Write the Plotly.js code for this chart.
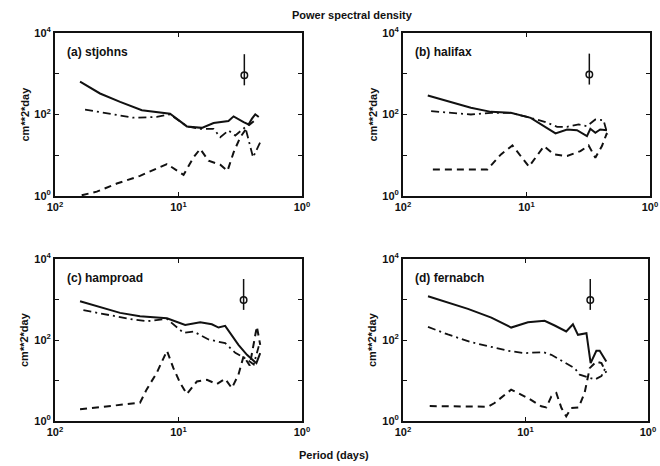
<!DOCTYPE html>
<html>
<head>
<meta charset="utf-8">
<script src="https://cdn.plot.ly/plotly-3.0.1.min.js"></script>
<style>html,body{margin:0;padding:0;background:#fff;}#chart{width:660px;height:466px;}</style>
</head>
<body>
<div id="chart"></div>
<script>
// ---- data (period in days, PSD in cm**2*day) ----
const panelNames = ["(a) stjohns", "(b) halifax", "(c) hamproad", "(d) fernabch"];

const periodA_solid = [62.7, 43.2, 29.7, 19.8, 11.7, 8.55, 6.47, 5.2, 3.94, 3.58, 2.97, 2.71, 2.54, 2.39, 2.24];
const psdA_solid    = [637, 328, 204, 127, 105, 51, 47, 62, 69, 90, 65, 57, 79, 101, 87];
const periodA_dashdot = [57.1, 35.8, 23.2, 15.0, 11.7, 8.55, 6.67, 5.2, 4.59, 3.94, 3.47, 2.88, 2.49, 2.18];
const psdA_dashdot    = [132, 105, 83.5, 87, 101, 51, 44.6, 44.6, 27.7, 40.6, 30.5, 49, 8.9, 20.9];
const periodA_dash = [60.8, 45.9, 31.6, 20.5, 12.4, 10.3, 9.1, 7.55, 6.67, 5.71, 4.59, 4.01, 3.58, 3.16, 2.71, 2.32];
const psdA_dash    = [1.04, 1.28, 2.02, 3.12, 6.08, 4.15, 3.31, 8.88, 14.3, 7.34, 5.85, 4.15, 11.8, 27.7, 54, 79];

const periodB_solid = [63, 43.5, 28.2, 19.4, 13.4, 9.25, 7.22, 5.82, 4.69, 3.9, 3.24, 3.04, 2.77, 2.53, 2.23];
const psdB_solid    = [292, 212, 146, 116, 110, 82.9, 51.8, 34.3, 42.9, 41.3, 29.5, 44.6, 35.6, 42.9, 41.3];
const periodB_dashdot = [59.2, 40.8, 28.2, 19.4, 13.4, 9.25, 7.01, 5.65, 4.69, 3.78, 3.24, 2.77, 2.38, 2.21];
const psdB_dashdot    = [121, 110, 100, 110, 110, 82.9, 64.9, 49.9, 49.9, 56.9, 51.8, 75.5, 72.6, 32.4];
const periodB_dash = [57.3, 20.7, 16.1, 13.0, 9.55, 7.22, 6.01, 4.69, 3.66, 3.14, 2.77, 2.45, 2.23];
const psdB_dash    = [4.5, 4.5, 10.5, 17.4, 5.23, 16.8, 10.5, 9.55, 12.6, 17.4, 8.69, 16.8, 35.6];

const periodC_solid = [62.7, 43.2, 29.7, 20.5, 12.4, 8.83, 6.67, 5.37, 4.74, 4.19, 3.70, 3.27, 2.79, 2.34, 2.18];
const psdC_solid    = [906, 657, 467, 387, 345, 236, 275, 245, 203, 223, 134, 76, 43.1, 26.8, 47.4];
const periodC_dashdot = [58.9, 38.1, 23.2, 18.1, 12.4, 9.1, 7.55, 5.71, 4.19, 3.47, 2.79, 2.46, 2.24];
const psdC_dashdot    = [543, 425, 320, 291, 332, 150, 162, 103, 83.6, 48.3, 33.1, 24.9, 70.5];
const periodC_dash = [62.7, 35.8, 20.5, 18.1, 15.0, 12.4, 11.0, 9.68, 8.55, 7.1, 5.89, 4.89, 4.19, 3.70, 3.27, 2.97, 2.65, 2.32, 2.18];
const psdC_dash    = [1.94, 2.34, 2.83, 6.03, 15.5, 54.1, 20.2, 8.64, 4.63, 9.49, 10.4, 8.16, 11.0, 6.5, 13.9, 40, 23.5, 215, 76];

const periodD_solid = [62.5, 43, 29.5, 19.0, 13.1, 9.55, 6.98, 5.78, 4.65, 4.1, 3.73, 3.18, 2.94, 2.64, 2.48, 2.19];
const psdD_solid    = [1202, 824, 586, 358, 203, 275, 297, 228, 162, 245, 134, 147, 26.8, 54.1, 54.1, 29.5];
const periodD_dashdot = [62.5, 43, 27.7, 19.0, 13.9, 10.2, 7.19, 6.15, 4.94, 3.97, 3.61, 3.09, 2.72, 2.40, 2.19];
const psdD_dashdot    = [211, 137, 88.4, 69.2, 54.1, 47.4, 50.2, 43.1, 29.5, 20.2, 13.9, 11.7, 10.6, 12.8, 22.7];
const periodD_dash = [60.5, 20.2, 17.9, 13.1, 9.55, 7.43, 6.76, 6.15, 5.6, 5.09, 4.65, 4.23, 3.68, 3.29, 2.99, 2.64, 2.40, 2.19];
const psdD_dash    = [2.34, 2.25, 2.78, 5.92, 3.69, 2.3, 2.17, 4.05, 4.9, 2.09, 1.30, 2.09, 2.17, 4.99, 20.2, 29.5, 26.8, 15.5];

// confidence interval marker per panel
const errPeriod = [2.93, 3.1, 2.97, 2.96];
const errMid    = [918, 955, 977, 977];
const errLow    = [520, 543, 554, 554];
const errHigh   = [3020, 3119, 3213, 3213];

const xTickVals = [1, 10, 100];
const xTickText = ["10<sup>0</sup>", "10<sup>1</sup>", "10<sup>2</sup>"];
const yTickVals = [1, 100, 10000];
const yTickText = ["10<sup>0</sup>", "10<sup>2</sup>", "10<sup>4</sup>"];
const yMinorVals = [10, 1000];

// ---- build ----
const series = [
  [[periodA_solid, psdA_solid], [periodA_dashdot, psdA_dashdot], [periodA_dash, psdA_dash]],
  [[periodB_solid, psdB_solid], [periodB_dashdot, psdB_dashdot], [periodB_dash, psdB_dash]],
  [[periodC_solid, psdC_solid], [periodC_dashdot, psdC_dashdot], [periodC_dash, psdC_dash]],
  [[periodD_solid, psdD_solid], [periodD_dashdot, psdD_dashdot], [periodD_dash, psdD_dash]]
];
const styles = [
  {dash: "solid", width: 2},
  {dash: "8px,4px,2px,4px", width: 1.8},
  {dash: "7px,5px", width: 2}
];

const W = 660, H = 466;
const boxes = [
  {l: 55, r: 302, t: 33, b: 196},
  {l: 403, r: 650, t: 33, b: 196},
  {l: 55, r: 302, t: 259, b: 421},
  {l: 403, r: 648, t: 259, b: 421}
];

const traces = [];
const layout = {
  width: W, height: H,
  margin: {l: 0, r: 0, t: 0, b: 0},
  paper_bgcolor: "#fff", plot_bgcolor: "#fff",
  showlegend: false,
  font: {family: "Liberation Sans, Arial, sans-serif", size: 11, color: "#111", weight: "bold"},
  annotations: []
};

boxes.forEach((bx, i) => {
  const n = i + 1;
  const xa = "x" + (n === 1 ? "" : n), ya = "y" + (n === 1 ? "" : n);
  series[i].forEach((s, k) => {
    traces.push({
      x: s[0], y: s[1], xaxis: xa, yaxis: ya, type: "scatter", mode: "lines",
      line: {color: "#111", width: styles[k].width, dash: styles[k].dash},
      hoverinfo: "skip"
    });
  });
  traces.push({
    x: [errPeriod[i], errPeriod[i]], y: [errLow[i], errHigh[i]], xaxis: xa, yaxis: ya,
    type: "scatter", mode: "lines", line: {color: "#111", width: 1.5}, hoverinfo: "skip"
  });
  traces.push({
    x: [errPeriod[i]], y: [errMid[i]], xaxis: xa, yaxis: ya, type: "scatter", mode: "markers",
    marker: {symbol: "circle-open", size: 6.5, color: "#111", line: {width: 1.5, color: "#111"}},
    hoverinfo: "skip"
  });
  const axCommon = {
    type: "log", showgrid: false, zeroline: false,
    showline: true, linecolor: "#111", linewidth: 2, mirror: "ticks",
    ticks: "inside", ticklen: 4, tickwidth: 1, tickcolor: "#111",
    tickmode: "array", tickfont: {size: 11, color: "#111"}, fixedrange: true
  };
  layout["xaxis" + (n === 1 ? "" : n)] = Object.assign({}, axCommon, {
    domain: [bx.l / W, bx.r / W], anchor: "y" + (n === 1 ? "" : n),
    range: [2, 0], tickvals: xTickVals, ticktext: xTickText
  });
  layout["yaxis" + (n === 1 ? "" : n)] = Object.assign({}, axCommon, {
    domain: [1 - bx.b / H, 1 - bx.t / H], anchor: "x" + (n === 1 ? "" : n),
    range: [0, 4], tickvals: yTickVals, ticktext: yTickText,
    minor: {tickmode: "array", tickvals: yMinorVals, ticks: "inside", ticklen: 4, tickwidth: 1, tickcolor: "#111"}
  });
  layout.annotations.push({
    text: panelNames[i], xref: "paper", yref: "paper",
    x: (bx.l + 10) / W, y: 1 - (bx.t + 19) / H, xanchor: "left", yanchor: "middle",
    showarrow: false, font: {size: 12, color: "#111", weight: "bold"}
  });
  layout.annotations.push({
    text: "cm**2*day", xref: "paper", yref: "paper", textangle: -90,
    x: (bx.l - 31) / W, y: 1 - ((bx.t + bx.b) / 2) / H, xanchor: "center", yanchor: "middle",
    showarrow: false, font: {size: 11, color: "#111", weight: "bold"}
  });
});

layout.annotations.push({
  text: "Power spectral density", xref: "paper", yref: "paper",
  x: 352 / W, y: 1 - 15 / H, xanchor: "center", yanchor: "middle",
  showarrow: false, font: {size: 11, color: "#111", weight: "bold"}
});
layout.annotations.push({
  text: "Period (days)", xref: "paper", yref: "paper",
  x: 334 / W, y: 1 - 455 / H, xanchor: "center", yanchor: "middle",
  showarrow: false, font: {size: 11, color: "#111", weight: "bold"}
});

Plotly.newPlot("chart", traces, layout, {staticPlot: true, displayModeBar: false});
</script>
</body>
</html>
